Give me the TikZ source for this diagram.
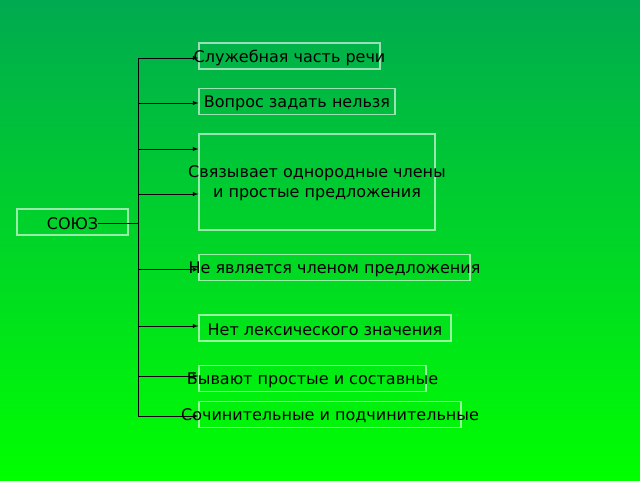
\documentclass[tikz,border=0pt]{standalone}
\usepackage{fontspec}
\setmainfont{DejaVu Sans}
\usepackage{tikz}
\usetikzlibrary{arrows,positioning}
\definecolor{topgreen}{RGB}{0,170,80}
\definecolor{botgreen}{RGB}{0,255,0}
\begin{document}
\begin{tikzpicture}[x=1pt,y=-1pt,>=latex,
    box/.style={draw=white,draw opacity=.6,line width=1.2pt,inner sep=0pt,minimum height=26pt},
    every label/.style={font=\fontsize{16}{20}\selectfont,text=black,inner sep=0pt,yshift=-1.5pt},
    conn/.style={line width=.9pt}]
\shade[top color=topgreen,bottom color=botgreen] (0,0) rectangle (640,480);
% boxes
\node[box,minimum width=111pt,label={[name=souz]center:СОЮЗ}] (b0) at (72.5,222) {};
\node[box,minimum width=181pt,label=center:Служебная часть речи] (b1) at (289.5,56) {};
\node[box,minimum width=196pt,label=center:Вопрос задать нельзя] (b2) at (297,101.5) {};
\node[box,minimum width=236pt,minimum height=96pt,
      label={[align=center]center:{Связывает однородные члены\\и простые предложения}}] (b3) at (317,182) {};
\node[box,minimum width=271pt,label=center:Не является членом предложения] (b4) at (334.5,267.5) {};
\node[box,minimum width=252pt,label=center:Нет лексического значения] (b5) at (325,328) {};
\node[box,minimum width=227pt,label=center:Бывают простые и составные] (b6) at (312.5,378.5) {};
\node[box,minimum width=262pt,label=center:Сочинительные и подчинительные] (b7) at (330,414.5) {};
% trunk
\coordinate (t1) at (138,58);
\coordinate (t2) at (138,103);
\coordinate (t3) at (138,149);
\coordinate (t4) at (138,194);
\coordinate (t5) at (138,269.5);
\coordinate (t6) at (138,326);
\coordinate (t7) at (138,376);
\coordinate (t8) at (138,416);
\draw[conn] (souz.east) -- (souz.east -| t1);
\draw[conn] (t1) -- (t8);
\foreach \t/\b in {t1/b1,t2/b2,t3/b3,t4/b3,t5/b4,t6/b5,t7/b6,t8/b7}
  \draw[conn,->] (\t) -- (\t -| \b.west);
\end{tikzpicture}
\end{document}
